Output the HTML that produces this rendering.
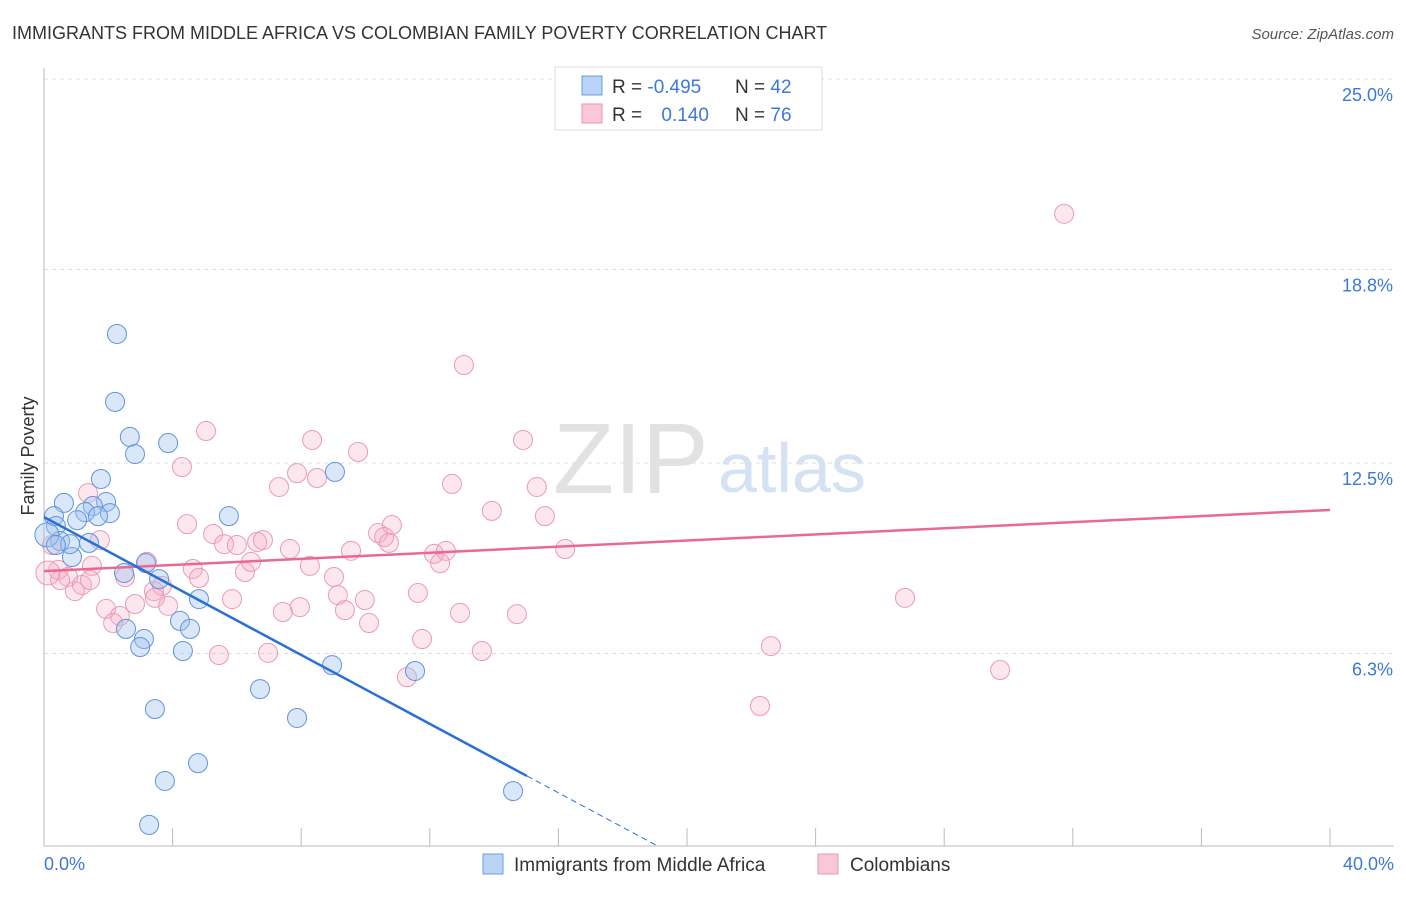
<!DOCTYPE html>
<html><head><meta charset="utf-8">
<style>
body{margin:0;background:#fff;font-family:"Liberation Sans",sans-serif;}
svg text{font-family:"Liberation Sans",sans-serif;}
</style></head>
<body>
<svg id="chart" width="1406" height="892" xmlns="http://www.w3.org/2000/svg">
<text x="12" y="39" font-size="18" fill="#333">IMMIGRANTS FROM MIDDLE AFRICA VS COLOMBIAN FAMILY POVERTY CORRELATION CHART</text>
<text x="1394" y="39" font-size="15" fill="#555" font-style="italic" text-anchor="end">Source: ZipAtlas.com</text>
<g>
<text x="553" y="493" font-size="100" fill="#e2e2e2" font-family="Liberation Serif">ZIP</text>
<text x="718" y="492" font-size="70" fill="#d4e2f3">atlas</text>
</g>
<g id="grid"></g>
<g id="axes"></g>
<g id="marks"></g>
<g id="lines"></g>
<g>
<rect x="555" y="67" width="267" height="63" fill="#fff" stroke="#ddd"/>
<rect x="582" y="76" width="20" height="19" fill="#b8d3f4" stroke="#6d9be0"/>
<rect x="582" y="104" width="20" height="19" fill="#f9c8d6" stroke="#ea94b0"/>
<text x="612" y="93" font-size="19" fill="#333">R = <tspan fill="#3d78d8">-0.495</tspan></text>
<text x="735" y="93" font-size="19" fill="#333">N = <tspan fill="#3d78d8">42</tspan></text>
<text x="612" y="121" font-size="19" fill="#333">R = <tspan fill="#3d78d8" dx="14">0.140</tspan></text>
<text x="735" y="121" font-size="19" fill="#333">N = <tspan fill="#3d78d8">76</tspan></text>
</g>
<g>
<rect x="483" y="854" width="20" height="20" fill="#b8d3f4" stroke="#6d9be0"/>
<text x="514" y="871" font-size="19" fill="#333">Immigrants from Middle Africa</text>
<rect x="818" y="854" width="20" height="20" fill="#f9c8d6" stroke="#ea94b0"/>
<text x="850" y="871" font-size="19" fill="#333">Colombians</text>
</g>
<text transform="translate(34,456) rotate(-90)" font-size="18" fill="#333" text-anchor="middle">Family Poverty</text>
</svg>
<script>
const yTicks=[6.3,12.5,18.8,25.0];
const yTickLabels=["6.3%","12.5%","18.8%","25.0%"];
const xTickLabels=["0.0%","40.0%"];
const blueX=[2.27,2.21,2.67,2.83,3.86,9.05,1.77,0.62,1.93,1.52,2.05,1.28,1.68,1.03,0.31,0.37,0.50,0.09,1.40,0.87,5.75,2.49,3.17,3.58,4.82,4.23,4.54,2.55,3.11,2.99,4.32,8.96,11.54,6.72,3.45,7.87,4.79,3.76,3.27,14.59,0.81,0.37];
const blueY=[16.70,14.49,13.35,12.79,13.15,12.21,11.98,11.20,11.23,11.10,10.87,10.90,10.77,10.64,10.77,10.45,9.96,10.16,9.90,9.44,10.77,8.92,9.24,8.72,8.07,7.36,7.10,7.10,6.77,6.51,6.38,5.92,5.73,5.14,4.49,4.20,2.73,2.15,0.72,1.82,9.86,9.83];
const pinkX=[31.73,13.06,5.04,4.29,8.34,9.77,14.90,7.31,7.87,8.49,12.69,15.33,13.93,15.58,1.37,4.45,5.26,5.60,6.00,6.63,6.81,7.65,9.55,10.39,10.82,10.58,10.73,12.13,12.50,12.32,16.21,1.74,0.25,0.44,0.75,1.49,2.52,3.20,3.67,4.63,4.82,6.25,6.44,8.27,9.02,3.42,3.45,2.83,3.86,1.93,2.36,2.15,5.85,7.43,7.96,9.14,9.36,9.98,10.11,11.63,12.94,14.71,26.78,11.76,13.62,5.44,6.97,22.61,29.74,11.29,22.27,0.96,1.18,0.50,1.43,0.12];
const pinkY=[20.61,15.69,13.54,12.37,13.25,12.86,13.25,11.72,12.17,12.01,11.82,11.72,10.94,10.77,11.52,10.51,10.19,9.86,9.83,9.93,9.99,9.70,9.64,10.22,10.48,10.09,9.90,9.54,9.64,9.24,9.70,9.99,9.83,9.02,8.79,9.15,8.79,9.28,8.50,9.05,8.76,8.95,9.28,9.15,8.79,8.33,8.11,7.91,7.85,7.75,7.52,7.29,8.07,7.65,7.81,8.20,7.71,8.04,7.29,8.27,7.62,7.58,8.11,6.77,6.38,6.25,6.32,6.54,5.76,5.53,4.59,8.33,8.53,8.69,8.69,8.92];
const blueTrend=[10.74,-0.561];
const pinkTrend=[8.98,0.0498];
const NS="http://www.w3.org/2000/svg";
const X0=44,X1=1330,Y0=847,PXPER=30.72;
function sx(v){return X0+(X1-X0)*v/40;}
function sy(v){return Y0-v*PXPER;}
function mk(tag,attrs,parent){const e=document.createElementNS(NS,tag);for(const k in attrs)e.setAttribute(k,attrs[k]);parent.appendChild(e);return e;}
const grid=document.getElementById('grid'),axes=document.getElementById('axes'),marks=document.getElementById('marks'),lines=document.getElementById('lines');
yTicks.forEach((t,i)=>{
  const g=mk('line',{x1:X0,x2:1394,y1:sy(t),y2:sy(t),stroke:'#ddd','stroke-dasharray':'4,4'},grid);
  
  
  const tx=mk('text',{x:1393,y:sy(t)+22,'font-size':18,fill:'#3d78d8','text-anchor':'end'},axes);
  tx.textContent=yTickLabels[i];
  
  
});
const ax=mk('line',{x1:X0,x2:X0,y1:68,y2:846,stroke:'#bbb'},axes);


const bx=mk('line',{x1:X0,x2:1394,y1:846,y2:846,stroke:'#bbb'},axes);


for(let i=1;i<=10;i++){
  const t=mk('line',{x1:sx(i*4),x2:sx(i*4),y1:828,y2:846,stroke:'#bbb'},axes);
  
  
}
[[0,'start',44],[40,'end',1394]].forEach((d,i)=>{
  const t=mk('text',{x:d[2],y:870,'font-size':18,fill:'#3d78d8','text-anchor':d[1]},axes);
  t.textContent=xTickLabels[i];
  
  
});
function pts(xs,ys,fill,stroke,name){
  xs.forEach((x,i)=>{
    const r=(x<0.2)?12:9.5;
    const c=mk('circle',{cx:sx(x),cy:sy(ys[i]),r:r,fill:fill,stroke:stroke,'stroke-width':1},marks);
    
    
  });
}
pts(pinkX,pinkY,'rgba(244,170,195,0.28)','#eb9ab5','colombian-point');
pts(blueX,blueY,'rgba(160,196,240,0.4)','#6094dc','middle-africa-point');
let l=mk('line',{x1:sx(0),y1:sy(pinkTrend[0]),x2:sx(40),y2:sy(pinkTrend[0]+40*pinkTrend[1]),stroke:'#e86a94','stroke-width':2.5},lines);


const bEnd=15.02,bDash=19.1;
l=mk('line',{x1:sx(0),y1:sy(blueTrend[0]),x2:sx(bEnd),y2:sy(blueTrend[0]+bEnd*blueTrend[1]),stroke:'#2a6fd6','stroke-width':2.5},lines);


l=mk('line',{x1:sx(bEnd),y1:sy(blueTrend[0]+bEnd*blueTrend[1]),x2:sx(bDash),y2:sy(blueTrend[0]+bDash*blueTrend[1]),stroke:'#2a6fd6','stroke-width':1,'stroke-dasharray':'6,4'},lines);


</script>
</body></html>
